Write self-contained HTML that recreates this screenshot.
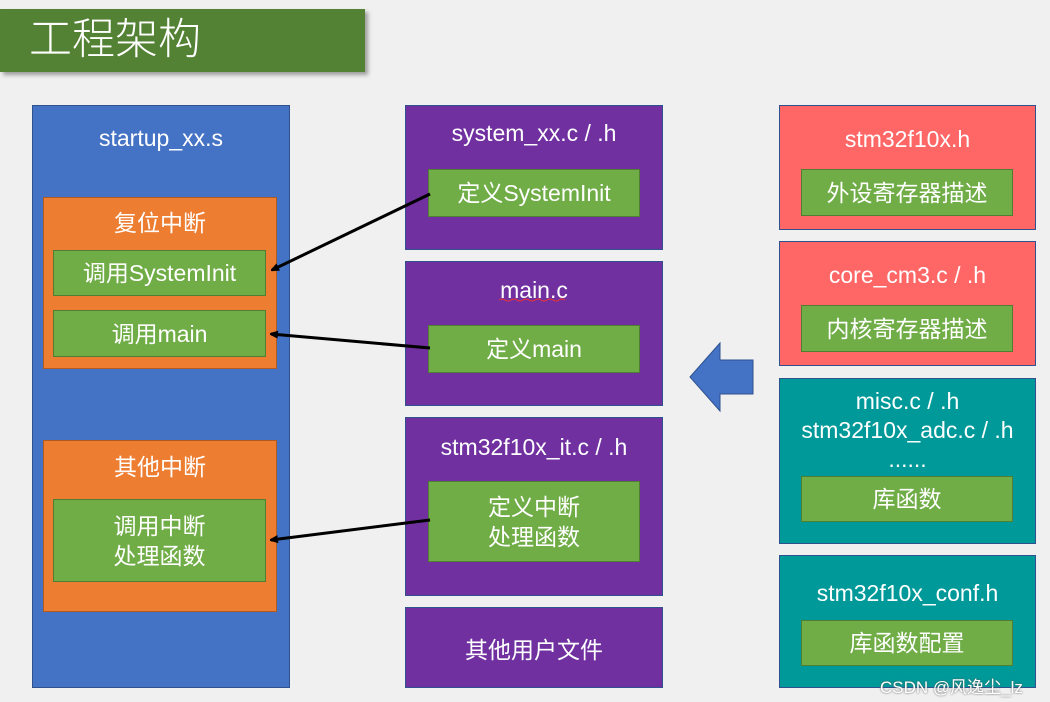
<!DOCTYPE html>
<html><head><meta charset="utf-8"><style>
body{margin:0;width:1050px;height:702px;background:#f0f0f0;position:relative;overflow:hidden;font-family:"Liberation Sans","Noto Sans CJK SC",sans-serif;color:#fff}
.b{position:absolute;box-sizing:border-box;border:1px solid #2f528f}
.g{position:absolute;box-sizing:border-box;background:#70AD47;border:1px solid #507e32;display:flex;align-items:center;justify-content:center;text-align:center;font-size:23px;line-height:30px}
.t{position:absolute;left:0;right:0;text-align:center;font-size:23px;line-height:30px}
</style></head><body>
<div style="position:absolute;left:0;top:9px;width:365px;height:63px;background:#548235;box-shadow:3px 3px 4px rgba(0,0,0,.35)"><div style="position:absolute;left:29px;top:4px;font-size:43px;line-height:54px;font-weight:300">工程架构</div></div>

<div class="b" style="left:32px;top:105px;width:258px;height:583px;background:#4472C4"><div class="t" style="top:17px">startup_xx.s</div></div>
<div class="b" style="left:43px;top:197px;width:234px;height:172px;background:#ED7D31;border-color:#ae5a21"><div class="t" style="top:10px">复位中断</div></div>
<div class="g" style="left:53px;top:250px;width:213px;height:46px">调用SystemInit</div>
<div class="g" style="left:53px;top:310px;width:213px;height:47px">调用main</div>
<div class="b" style="left:43px;top:440px;width:234px;height:172px;background:#ED7D31;border-color:#ae5a21"><div class="t" style="top:11px">其他中断</div></div>
<div class="g" style="left:53px;top:499px;width:213px;height:83px">调用中断<br>处理函数</div>

<div class="b" style="left:405px;top:105px;width:258px;height:145px;background:#7030A0"><div class="t" style="top:12px">system_xx.c / .h</div></div>
<div class="g" style="left:428px;top:169px;width:212px;height:48px">定义SystemInit</div>
<div class="b" style="left:405px;top:261px;width:258px;height:145px;background:#7030A0"><div class="t" style="top:13px">main.c</div></div>
<div class="g" style="left:428px;top:325px;width:212px;height:48px">定义main</div>
<div class="b" style="left:405px;top:417px;width:258px;height:179px;background:#7030A0"><div class="t" style="top:14px">stm32f10x_it.c / .h</div></div>
<div class="g" style="left:428px;top:481px;width:212px;height:81px">定义中断<br>处理函数</div>
<div class="b" style="left:405px;top:607px;width:258px;height:81px;background:#7030A0;display:flex;align-items:center;justify-content:center;font-size:23px">其他用户文件</div>

<div class="b" style="left:779px;top:105px;width:257px;height:125px;background:#FF6666"><div class="t" style="top:18px">stm32f10x.h</div></div>
<div class="g" style="left:801px;top:169px;width:212px;height:47px">外设寄存器描述</div>
<div class="b" style="left:779px;top:241px;width:257px;height:125px;background:#FF6666"><div class="t" style="top:18px">core_cm3.c / .h</div></div>
<div class="g" style="left:801px;top:305px;width:212px;height:47px">内核寄存器描述</div>
<div class="b" style="left:779px;top:378px;width:257px;height:166px;background:#009999"><div class="t" style="top:8px;line-height:29px">misc.c / .h<br>stm32f10x_adc.c / .h<br>......</div></div>
<div class="g" style="left:801px;top:476px;width:212px;height:46px">库函数</div>
<div class="b" style="left:779px;top:555px;width:257px;height:133px;background:#009999"><div class="t" style="top:22px">stm32f10x_conf.h</div></div>
<div class="g" style="left:801px;top:620px;width:212px;height:46px">库函数配置</div>

<svg style="position:absolute;left:0;top:0" width="1050" height="702">
<defs><marker id="a" markerWidth="8" markerHeight="8" refX="7" refY="4" orient="auto" markerUnits="userSpaceOnUse"><path d="M0,0L10,4L0,8z" fill="#000"/></marker></defs>
<polygon points="690,377 720,343 720,360 753,360 753,394 720,394 720,411" fill="#4472C4" stroke="#2f528f"/>
<line x1="430" y1="194" x2="272" y2="270" stroke="#000" stroke-width="3" marker-end="url(#a)"/>
<line x1="430" y1="348" x2="271" y2="334" stroke="#000" stroke-width="3" marker-end="url(#a)"/>
<line x1="430" y1="520" x2="271" y2="540" stroke="#000" stroke-width="3" marker-end="url(#a)"/>
<path d="M499,300 q3,-2 6,0 t6,0 t6,0 t6,0 t6,0 t6,0 t6,0 t6,0 t6,0 t6,0 t6,0" stroke="#e33" fill="none" stroke-width="1"/>
</svg>
<div style="position:absolute;left:880px;top:673px;font-size:17px;color:#fff;text-shadow:0 0 2px #555">CSDN @风逸尘_lz</div>
</body></html>
